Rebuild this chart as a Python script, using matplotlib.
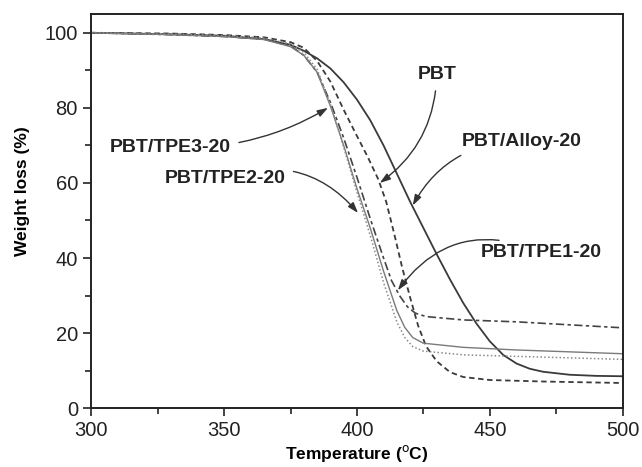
import matplotlib.pyplot as plt
from matplotlib.ticker import MultipleLocator

plt.rcParams['font.family'] = ['Liberation Sans', 'DejaVu Sans']

# 温度点 / 失重数据
t_pbt = [300, 330, 350, 365, 375, 380, 385, 390, 395, 400, 404, 408, 411, 414, 417,
         420, 423, 426, 430, 435, 440, 450, 470, 500]
w_pbt = [100, 99.8, 99.4, 98.8, 97.5, 96.0, 92.5, 87.0, 79.5, 72.5, 67.0, 61.0, 55.0,
         46.5, 37.5, 29.5, 22.0, 16.5, 12.5, 9.6, 8.3, 7.5, 7.1, 6.7]

t_alloy = [300, 330, 350, 365, 375, 380, 385, 390, 395, 400, 405, 410, 415, 420, 425,
           430, 435, 440, 445, 450, 455, 460, 465, 470, 480, 490, 500]
w_alloy = [100, 99.6, 99.2, 98.3, 96.8, 95.2, 93.2, 90.5, 86.8, 82.2, 76.7, 70.0, 62.5,
           55.0, 48.0, 41.0, 34.3, 28.0, 22.5, 17.8, 14.2, 11.9, 10.5, 9.7, 8.9, 8.6, 8.5]

t_tpe1 = [300, 330, 350, 365, 375, 380, 385, 390, 395, 400, 405, 410, 413, 416, 419,
          422, 426, 440, 460, 480, 500]
w_tpe1 = [100, 99.5, 99.0, 98.3, 96.5, 94.0, 89.5, 81.5, 72.0, 61.5, 50.5, 40.0, 34.0,
          30.0, 27.0, 25.3, 24.4, 23.5, 23.0, 22.2, 21.4]

t_tpe2 = [300, 330, 350, 365, 375, 380, 385, 390, 395, 400, 405, 410, 415, 418, 421,
          425, 440, 460, 480, 500]
w_tpe2 = [100, 99.5, 99.0, 98.2, 96.3, 94.0, 89.5, 80.5, 70.0, 58.5, 48.0, 36.5, 26.0,
          21.5, 18.8, 17.3, 16.2, 15.5, 15.0, 14.5]

t_tpe3 = [300, 330, 350, 365, 375, 380, 385, 390, 395, 400, 405, 410, 415, 418, 421,
          425, 440, 460, 480, 500]
w_tpe3 = [100, 99.7, 99.3, 98.6, 97.0, 94.8, 90.3, 81.0, 69.5, 57.5, 46.0, 33.5, 23.0,
          18.8, 16.4, 15.2, 14.2, 13.8, 13.4, 13.0]

# 标注: 文字, 箭头尖端, 文字位置, 弯曲
names = ['PBT', 'PBT/Alloy-20', 'PBT/TPE1-20', 'PBT/TPE2-20', 'PBT/TPE3-20']
tips = [(408.6, 60.0), (421.0, 54.0), (415.4, 31.4), (400.4, 52.0), (389.1, 80.0)]
text_pos = [(430.0, 89.0), (439.5, 71.0), (446.5, 41.5), (373.0, 61.2), (352.5, 69.4)]
text_ha = ['center', 'left', 'left', 'right', 'right']
rads = [-0.25, 0.3, 0.4, -0.35, 0.15]

fig, ax = plt.subplots(figsize=(6.42, 4.67), dpi=100)
fig.subplots_adjust(left=0.142, right=0.970, bottom=0.126, top=0.970)

ax.plot(t_alloy, w_alloy, color='#3a3a3a', lw=1.3, ls='-')
ax.plot(t_pbt, w_pbt, color='#3a3a3a', lw=1.3, ls=(0, (3, 2)))
ax.plot(t_tpe1, w_tpe1, color='#444444', lw=1.2, ls=(0, (5, 2, 2, 2)))
ax.plot(t_tpe2, w_tpe2, color='#7a7a7a', lw=1.0, ls='-')
ax.plot(t_tpe3, w_tpe3, color='#8a8a8a', lw=1.1, ls=(0, (1, 1.5)))

for name, tip, pos, ha, rad in zip(names, tips, text_pos, text_ha, rads):
    ax.annotate(name, xy=tip, xytext=pos, ha=ha, va='center',
                fontsize=14, fontweight='bold', color='#222222',
                arrowprops=dict(arrowstyle='-|>,head_length=0.45,head_width=0.15',
                                color='#333333', lw=1.0, shrinkA=4, shrinkB=0,
                                connectionstyle='arc3,rad=%s' % rad))

ax.set_xlim(300, 500)
ax.set_ylim(0, 105)
ax.xaxis.set_major_locator(MultipleLocator(50))
ax.xaxis.set_minor_locator(MultipleLocator(25))
ax.yaxis.set_major_locator(MultipleLocator(20))
ax.yaxis.set_minor_locator(MultipleLocator(10))
ax.tick_params(which='both', direction='out', top=False, right=False,
               labelsize=14.5, colors='#222222', width=1.2)
ax.tick_params(which='major', length=6)
ax.tick_params(which='minor', length=4)
for s in ax.spines.values():
    s.set_linewidth(1.4)
    s.set_color('#222222')

ax.set_xlabel('Temperature ($^{\\mathrm{o}}$C)', fontsize=12.5, fontweight='bold', labelpad=2)
ax.set_ylabel('Weight loss (%)', fontsize=12.5, fontweight='bold')
ax.yaxis.set_label_coords(-0.115, 0.55)

plt.savefig('out.png', dpi=100)
